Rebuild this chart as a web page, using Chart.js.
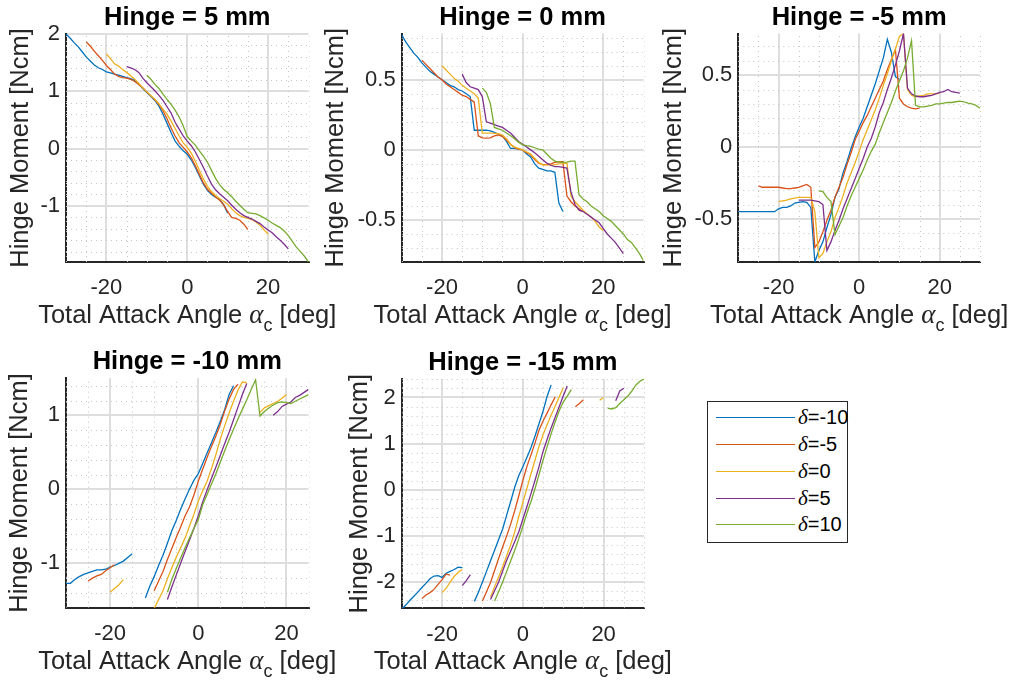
<!DOCTYPE html>
<html>
<head>
<meta charset="utf-8">
<title>Hinge Moment vs Total Attack Angle</title>
<script src="https://cdn.jsdelivr.net/npm/chart.js"></script>
<style>
  html, body { margin: 0; padding: 0; background: #ffffff; }
  body { position: relative; width: 1011px; height: 685px; overflow: hidden;
         font-family: "Liberation Sans", Arial, Helvetica, sans-serif; }
  canvas.panel { position: absolute; }
  #legend { position: absolute; left: 707px; top: 401px; width: 141px; height: 142px;
            box-sizing: border-box; border: 1px solid #262626; background: #ffffff; }
  .lg-row { position: absolute; left: 8px; height: 22px; display: flex; align-items: center; white-space: nowrap; }
  .lg-line { width: 79px; height: 0; border-top: 1.3px solid; }
  .lg-text { margin-left: 3px; font-size: 20px; color: #000000; }
  .lg-text i { font-family: "Liberation Serif", "DejaVu Serif", serif; font-size: 21px; }
</style>
</head>
<body>
<div id="legend"></div>
<script>
// ---- data -------------------------------------------------------------
// flap deflection δ [deg] for each series; total attack angle α_c = α + δ
const deltaDeg = [-10, -5, 0, 5, 10];
const seriesLabels = ['δ=-10', 'δ=-5', 'δ=0', 'δ=5', 'δ=10'];
// geometric attack angle α [deg] of each sample
const alphaDeg = [-20,-19,-18,-17,-16,-15,-14,-13,-12,-11,-10,-9,-8,-7,-6,-5,-4,-3,-2,-1,
                  0,1,2,3,4,5,6,7,8,9,10,11,12,13,14,15,16,17,18,19,20];

const xTickValues = [-20, 0, 20];
const yTicksH5 = [-1, 0, 1, 2];
const yTicksH0 = [-0.5, 0, 0.5];
const yTicksHm5 = [-0.5, 0, 0.5];
const yTicksHm10 = [-1, 0, 1];
const yTicksHm15 = [-2, -1, 0, 1, 2];

// hinge moment [Ncm], one value per α sample (null = no measurement)
// Hinge = 5 mm
const h5_dm10 = [2.00,1.93,1.85,1.78,1.69,1.60,1.53,1.46,1.41,1.38,1.34,1.32,1.30,1.28,1.26,1.24,1.22,1.19,1.12,1.05,0.98,0.91,0.84,0.74,0.60,0.44,0.28,0.13,0.04,-0.04,-0.10,-0.20,-0.33,-0.48,-0.62,-0.73,-0.80,-0.85,-0.89,-0.98,-1.13];
const h5_dm5  = [1.86,1.79,1.70,1.62,1.54,1.45,1.38,1.30,1.26,1.24,1.23,1.21,1.17,1.12,1.06,0.99,0.92,0.85,0.77,0.66,0.52,0.36,0.22,0.10,0.02,-0.06,-0.16,-0.30,-0.45,-0.60,-0.71,-0.78,-0.84,-0.90,-0.98,-1.10,-1.20,-1.22,-1.25,-1.32,-1.41];
const h5_d0   = [1.65,1.57,1.48,1.44,1.38,1.33,1.27,1.21,1.14,1.06,0.99,0.92,0.86,0.78,0.69,0.60,0.48,0.35,0.22,0.10,0.02,-0.08,-0.22,-0.38,-0.53,-0.66,-0.75,-0.82,-0.87,-0.92,-0.97,-1.05,-1.12,-1.17,-1.20,-1.22,-1.24,-1.28,-1.34,-1.42,-1.49];
const h5_dp5  = [1.43,1.41,1.38,1.33,1.23,1.15,1.08,1.01,0.93,0.84,0.73,0.62,0.46,0.34,0.22,0.13,0.05,-0.06,-0.19,-0.33,-0.48,-0.62,-0.72,-0.79,-0.85,-0.91,-0.99,-1.06,-1.12,-1.17,-1.20,-1.23,-1.27,-1.31,-1.37,-1.42,-1.47,-1.54,-1.60,-1.67,-1.75];
const h5_dp10 = [1.28,1.21,1.12,1.05,0.95,0.86,0.77,0.67,0.55,0.40,0.21,0.13,0.06,-0.04,-0.13,-0.24,-0.38,-0.52,-0.63,-0.71,-0.77,-0.84,-0.92,-0.99,-1.06,-1.12,-1.13,-1.14,-1.17,-1.21,-1.25,-1.30,-1.34,-1.38,-1.44,-1.52,-1.62,-1.72,-1.80,-1.88,-1.98];

// Hinge = 0 mm
const h0_dm10 = [0.82,0.77,0.73,0.69,0.66,0.62,0.59,0.56,0.54,0.52,0.50,0.48,0.46,0.45,0.43,0.42,0.40,0.38,0.14,0.14,0.14,0.14,0.135,0.125,0.11,0.10,0.06,0.01,0.01,0.005,0.0,-0.03,-0.05,-0.10,-0.13,-0.14,-0.15,-0.15,-0.16,-0.38,-0.44];
const h0_dm5  = [0.64,0.61,0.58,0.55,0.52,0.50,0.47,0.45,0.43,0.41,0.39,0.38,0.36,0.34,0.10,0.085,0.083,0.085,0.10,0.107,0.095,0.07,0.04,0.015,0.005,0.0,-0.02,-0.035,-0.07,-0.095,-0.105,-0.105,-0.10,-0.09,-0.085,-0.085,-0.33,-0.37,-0.40,-0.42,-0.44];
const h0_d0   = [0.60,0.57,0.54,0.51,0.49,0.46,0.44,0.42,0.40,0.37,0.12,0.12,0.12,0.118,0.115,0.105,0.08,0.04,0.02,0.01,0.0,-0.015,-0.03,-0.06,-0.09,-0.107,-0.107,-0.107,-0.105,-0.10,-0.098,-0.095,-0.33,-0.37,-0.40,-0.43,-0.455,-0.48,-0.51,-0.55,-0.575];
const h0_dp5  = [0.54,0.48,0.45,0.44,0.43,0.38,0.20,0.19,0.18,0.17,0.16,0.14,0.12,0.09,0.06,0.04,0.02,0.0,-0.02,-0.045,-0.07,-0.095,-0.11,-0.12,-0.12,-0.125,-0.13,-0.30,-0.39,-0.43,-0.44,-0.46,-0.48,-0.50,-0.52,-0.56,-0.60,-0.63,-0.66,-0.70,-0.74];
const h0_dp10 = [0.44,0.41,0.33,0.16,0.15,0.14,0.12,0.10,0.08,0.055,0.036,0.03,0.025,0.015,0.005,0.0,-0.03,-0.06,-0.08,-0.085,-0.09,-0.088,-0.08,-0.08,-0.32,-0.35,-0.37,-0.40,-0.42,-0.44,-0.47,-0.49,-0.51,-0.54,-0.57,-0.60,-0.64,-0.66,-0.70,-0.74,-0.79];

// Hinge = -5 mm
const hm5_dm10 = [-0.45,-0.45,-0.45,-0.45,-0.45,-0.45,-0.45,-0.45,-0.45,-0.45,-0.43,-0.42,-0.42,-0.41,-0.39,-0.385,-0.38,-0.385,-0.42,-0.80,-0.72,-0.66,-0.56,-0.47,-0.35,-0.29,-0.18,-0.10,-0.01,0.07,0.14,0.20,0.28,0.36,0.44,0.53,0.62,0.75,0.66,0.49,0.47];
const hm5_dm5  = [-0.27,-0.28,-0.28,-0.28,-0.28,-0.28,-0.285,-0.29,-0.29,-0.285,-0.28,-0.27,-0.26,-0.28,-0.70,-0.66,-0.59,-0.51,-0.44,-0.35,-0.28,-0.21,-0.12,-0.04,0.05,0.11,0.17,0.22,0.28,0.34,0.40,0.46,0.54,0.61,0.68,0.34,0.30,0.28,0.27,0.265,0.27];
const hm5_d0   = [-0.38,-0.375,-0.37,-0.36,-0.355,-0.35,-0.35,-0.35,-0.35,-0.45,-0.77,-0.74,-0.66,-0.59,-0.49,-0.42,-0.34,-0.25,-0.18,-0.11,-0.03,0.05,0.12,0.19,0.26,0.34,0.43,0.51,0.60,0.68,0.77,0.79,0.40,0.36,0.35,0.355,0.36,0.37,0.37,0.37,0.375];
const hm5_dp5  = [-0.37,-0.37,-0.37,-0.37,-0.375,-0.38,-0.40,-0.72,-0.66,-0.58,-0.51,-0.43,-0.36,-0.29,-0.22,-0.15,-0.08,0.0,0.06,0.14,0.24,0.31,0.40,0.48,0.57,0.67,0.79,0.41,0.37,0.355,0.35,0.35,0.355,0.36,0.37,0.38,0.385,0.40,0.385,0.38,0.375];
const hm5_dp10 = [-0.305,-0.31,-0.35,-0.38,-0.61,-0.55,-0.49,-0.41,-0.34,-0.28,-0.22,-0.16,-0.09,-0.03,0.02,0.10,0.17,0.24,0.31,0.39,0.46,0.53,0.62,0.74,0.29,0.28,0.28,0.285,0.29,0.30,0.30,0.305,0.31,0.31,0.315,0.32,0.315,0.305,0.30,0.29,0.27];

// Hinge = -10 mm
const hm10_dm10 = [-1.27,-1.27,-1.22,-1.18,-1.15,-1.13,-1.11,-1.09,-1.09,-1.08,-1.05,-1.03,-1.00,-0.97,-0.92,-0.87,null,null,-1.47,-1.31,-1.18,-1.03,-0.89,-0.73,-0.56,-0.42,-0.27,-0.13,0.00,0.12,0.21,0.35,0.49,0.63,0.77,0.92,1.08,1.28,1.40,null,null];
const hm10_dm5  = [-1.24,-1.20,-1.17,-1.15,-1.10,-1.06,-1.02,null,null,null,null,null,null,null,null,-1.37,-1.24,-1.11,-0.95,-0.80,-0.65,-0.51,-0.36,-0.24,-0.08,0.11,0.27,0.43,0.58,0.72,0.88,1.06,1.22,1.35,1.42,null,null,null,null,null,null];
const hm10_d0   = [-1.39,-1.34,-1.29,-1.22,null,null,null,null,null,null,-1.61,-1.49,-1.37,-1.21,-1.06,-0.92,-0.79,-0.66,-0.50,-0.34,-0.16,-0.02,0.11,0.28,0.47,0.68,0.86,1.03,1.19,1.34,1.45,1.44,null,null,1.04,1.10,1.13,1.16,1.19,1.23,1.28];
const hm10_dp5  = [null,null,null,null,null,null,null,null,-1.49,-1.32,-1.16,-1.00,-0.84,-0.69,-0.53,-0.36,-0.17,-0.01,0.15,0.30,0.46,0.62,0.77,0.94,1.11,1.28,1.43,null,null,null,null,null,1.00,1.05,1.12,1.15,1.18,1.24,1.27,1.31,1.35];
const hm10_dp10 = [null,null,null,-1.39,-1.22,-1.07,-0.93,-0.79,-0.66,-0.53,-0.41,-0.21,-0.07,0.07,0.21,0.37,0.52,0.67,0.81,0.95,1.08,1.21,1.35,1.48,0.99,1.05,1.10,1.14,1.17,1.18,1.17,1.16,1.19,1.22,1.25,1.28,null,null,null,null,null];

// Hinge = -15 mm
const hm15_dm10 = [-2.59,-2.50,-2.40,-2.31,-2.22,-2.12,-2.03,-1.93,-1.87,-1.86,-1.90,-1.81,-1.77,-1.73,-1.68,-1.69,null,null,-2.42,-2.22,-2.00,-1.77,-1.54,-1.31,-1.08,-0.85,-0.55,-0.25,0.06,0.31,0.50,0.70,0.91,1.16,1.43,1.70,2.02,2.27,null,null,null];
const hm15_dm5  = [-2.36,-2.28,-2.23,-2.16,-2.05,-1.95,-1.83,-1.85,null,null,null,null,null,null,null,-2.41,-2.21,-2.01,-1.75,-1.49,-1.24,-1.00,-0.74,-0.45,-0.13,0.20,0.50,0.75,1.01,1.29,1.49,1.66,1.84,2.01,null,null,null,null,1.80,1.87,1.95];
const hm15_d0   = [-2.23,-2.14,-2.00,-1.88,-1.79,-1.73,null,null,null,null,null,null,-2.33,-2.10,-1.89,-1.67,-1.43,-1.19,-0.91,-0.58,-0.28,0.03,0.34,0.64,0.94,1.19,1.41,1.62,1.81,2.01,2.21,null,null,null,null,null,null,null,null,1.94,2.00];
const hm15_dp5  = [-2.08,-1.97,-1.84,null,null,null,null,-2.38,-2.19,-2.00,-1.76,-1.53,-1.33,-1.12,-0.91,-0.64,-0.37,-0.09,0.20,0.50,0.83,1.09,1.34,1.57,1.80,2.03,2.25,null,null,null,null,null,null,null,null,null,null,null,1.93,2.14,2.20];
const hm15_dp10 = [null,null,null,-2.41,-2.21,-2.00,-1.77,-1.54,-1.31,-1.06,-0.79,-0.51,-0.26,0.02,0.33,0.64,0.93,1.21,1.47,1.71,1.90,2.03,2.17,null,null,null,null,null,null,null,null,1.77,1.75,1.78,1.87,1.95,2.03,2.14,2.27,2.35,2.40];

// ---- styling / layout -------------------------------------------------
const lineColors = ['#0072BD', '#D95319', '#EDB120', '#7E2F8E', '#77AC30'];
const FONT = '"Liberation Sans", Arial, Helvetica, sans-serif';
const INK = '#262626';

const panels = [
  { title: 'Hinge = 5 mm',   series: [h5_dm10, h5_dm5, h5_d0, h5_dp5, h5_dp10], yTicks: yTicksH5,
    xLim: [-30, 30], yLim: [-1.98, 2.0], yMinor: 0.2,
    box: { left: 0, top: 0, width: 345, height: 340 },   plot: { L: 66, T: 34, R: 308.5, B: 262 }, yTitleX: 22.5 },
  { title: 'Hinge = 0 mm',   series: [h0_dm10, h0_dm5, h0_d0, h0_dp5, h0_dp10], yTicks: yTicksH0,
    xLim: [-30, 30], yLim: [-0.80, 0.83], yMinor: 0.1,
    box: { left: 320, top: 0, width: 355, height: 340 }, plot: { L: 401.7, T: 33.5, R: 643.5, B: 262 }, yTitleX: 338 },
  { title: 'Hinge = -5 mm',  series: [hm5_dm10, hm5_dm5, hm5_d0, hm5_dp5, hm5_dp10], yTicks: yTicksHm5,
    xLim: [-30, 30], yLim: [-0.80, 0.79], yMinor: 0.1,
    box: { left: 655, top: 0, width: 356, height: 340 }, plot: { L: 738.3, T: 33.5, R: 980, B: 262 }, yTitleX: 676 },
  { title: 'Hinge = -10 mm', series: [hm10_dm10, hm10_dm5, hm10_d0, hm10_dp5, hm10_dp10], yTicks: yTicksHm10,
    xLim: [-30, 25], yLim: [-1.6, 1.5], yMinor: 0.2,
    box: { left: 0, top: 344, width: 345, height: 341 }, plot: { L: 66, T: 378.3, R: 308.5, B: 607.7 }, yTitleX: 21.7 },
  { title: 'Hinge = -15 mm', series: [hm15_dm10, hm15_dm5, hm15_d0, hm15_dp5, hm15_dp10], yTicks: yTicksHm15,
    xLim: [-30, 30], yLim: [-2.57, 2.4], yMinor: 0.2,
    box: { left: 340, top: 344, width: 340, height: 341 }, plot: { L: 401.7, T: 379, R: 644, B: 608.3 }, yTitleX: 361.5 }
];

// dotted minor grid, drawn through the chart's own scales
const minorGrid = {
  id: 'minorGrid',
  beforeDatasetsDraw(chart, args, opts) {
    const { ctx, chartArea: a, scales: { x, y } } = chart;
    ctx.save();
    ctx.beginPath();
    ctx.rect(a.left, a.top - 1, a.right - a.left + 1, a.bottom - a.top + 1);
    ctx.clip();
    ctx.strokeStyle = opts.color;
    ctx.lineWidth = 1;
    ctx.setLineDash([1, 4]);
    const isMajor = (v, majors) => majors.some(m => Math.abs(m - v) < 1e-6);
    const n0 = Math.ceil(x.min / opts.xStep - 1e-6), n1 = Math.floor(x.max / opts.xStep + 1e-6);
    for (let n = n0; n <= n1; n++) {
      const v = n * opts.xStep;
      if (isMajor(v, opts.xMajor)) continue;
      const px = Math.round(x.getPixelForValue(v)) + 0.5;
      ctx.beginPath(); ctx.moveTo(px, a.bottom); ctx.lineTo(px, a.top); ctx.stroke();
    }
    const m0 = Math.ceil(y.min / opts.yStep - 1e-6), m1 = Math.floor(y.max / opts.yStep + 1e-6);
    for (let m = m0; m <= m1; m++) {
      const v = m * opts.yStep;
      if (isMajor(v, opts.yMajor)) continue;
      const py = Math.round(y.getPixelForValue(v)) + 0.5;
      ctx.beginPath(); ctx.moveTo(a.left, py); ctx.lineTo(a.right, py); ctx.stroke();
    }
    ctx.restore();
  }
};

// bold panel heading centred over the plotting area
const panelTitle = {
  id: 'panelTitle',
  afterDraw(chart, args, opts) {
    const { ctx, chartArea: a } = chart;
    ctx.save();
    ctx.font = 'bold 25.5px ' + FONT;
    ctx.fillStyle = '#000000';
    ctx.textAlign = 'center';
    ctx.textBaseline = 'alphabetic';
    ctx.fillText(opts.text, (a.left + a.right) / 2, a.top - 9);
    ctx.restore();
  }
};

// x-axis label with Greek alpha and subscript c
const xAxisLabel = {
  id: 'xAxisLabel',
  afterDraw(chart, args, opts) {
    const { ctx, chartArea: a } = chart;
    const parts = [
      { t: 'Total Attack Angle ', f: '25.5px ' + FONT, dy: 0 },
      { t: 'α', f: 'italic 27px "Liberation Serif", "DejaVu Serif", serif', dy: 0 },
      { t: 'c', f: '18px ' + FONT, dy: 8 },
      { t: ' [deg]', f: '25.5px ' + FONT, dy: 0 }
    ];
    ctx.save();
    ctx.fillStyle = INK;
    ctx.textBaseline = 'alphabetic';
    ctx.textAlign = 'left';
    let total = 0;
    parts.forEach(p => { ctx.font = p.f; p.w = ctx.measureText(p.t).width; total += p.w; });
    let cx = (a.left + a.right) / 2 - total / 2;
    const base = a.bottom + 61;
    parts.forEach(p => { ctx.font = p.f; ctx.fillText(p.t, cx, base + p.dy); cx += p.w; });
    ctx.restore();
  }
};

Chart.defaults.font.family = FONT;

function buildPanel(def) {
  const cv = document.createElement('canvas');
  cv.className = 'panel';
  cv.width = def.box.width; cv.height = def.box.height;
  cv.style.left = def.box.left + 'px'; cv.style.top = def.box.top + 'px';
  cv.style.width = def.box.width + 'px'; cv.style.height = def.box.height + 'px';
  document.body.appendChild(cv);

  const p = def.plot;
  const yAxisW = p.L - def.box.left;
  const xAxisH = def.box.top + def.box.height - p.B;
  const padTop = p.T - def.box.top;
  const padRight = def.box.left + def.box.width - p.R;
  const yTitleSize = 25.5;
  const yTitleLine = yTitleSize * 1.2;

  const datasets = def.series.map((vals, i) => ({
    label: seriesLabels[i],
    data: alphaDeg.map((a, k) => ({ x: a + deltaDeg[i], y: vals[k] })),
    borderColor: lineColors[i],
    backgroundColor: lineColors[i],
    borderWidth: 1.3,
    pointRadius: 0,
    tension: 0,
    fill: false,
    spanGaps: false,
    order: deltaDeg.length - 1 - i
  }));

  return new Chart(cv, {
    type: 'line',
    data: { datasets },
    options: {
      responsive: false,
      animation: false,
      devicePixelRatio: 1,
      events: [],
      layout: { padding: { top: padTop, right: padRight, left: 0, bottom: 0 } },
      plugins: {
        legend: { display: false },
        tooltip: { enabled: false },
        panelTitle: { text: def.title },
        minorGrid: { color: '#c4c4c4', xStep: 5, yStep: def.yMinor, xMajor: xTickValues, yMajor: def.yTicks }
      },
      scales: {
        x: {
          type: 'linear', bounds: 'data', min: def.xLim[0], max: def.xLim[1],
          afterBuildTicks: s => { s.ticks = xTickValues.map(v => ({ value: v })); },
          afterFit: s => { s.height = xAxisH; },
          grid: { color: '#dedede', lineWidth: 2, drawTicks: false },
          border: { color: INK, width: 2 },
          ticks: { color: INK, font: { size: 22 }, padding: 13, maxRotation: 0, autoSkip: false }
        },
        y: {
          type: 'linear', bounds: 'data', min: def.yLim[0], max: def.yLim[1],
          afterBuildTicks: s => { s.ticks = def.yTicks.map(v => ({ value: v })); },
          afterFit: s => { s.width = yAxisW; },
          grid: { color: '#dedede', lineWidth: 2, drawTicks: false },
          border: { color: INK, width: 2 },
          ticks: { color: INK, font: { size: 22 }, padding: 6, autoSkip: false },
          title: {
            display: true, text: 'Hinge Moment [Ncm]', color: INK, font: { size: yTitleSize },
            padding: { top: Math.max(0, def.yTitleX - def.box.left - yTitleLine / 2 - 2), bottom: 0 }
          }
        }
      }
    },
    plugins: [minorGrid, panelTitle, xAxisLabel]
  });
}

panels.forEach(buildPanel);

// legend listing the five deflection series
const legend = document.getElementById('legend');
seriesLabels.forEach((lab, i) => {
  const row = document.createElement('div');
  row.className = 'lg-row';
  row.style.top = (15.7 + i * 26.8 - 11) + 'px';
  const line = document.createElement('span');
  line.className = 'lg-line';
  line.style.borderTopColor = lineColors[i];
  const txt = document.createElement('span');
  txt.className = 'lg-text';
  const sym = document.createElement('i');
  sym.textContent = lab.charAt(0);
  txt.appendChild(sym);
  txt.appendChild(document.createTextNode(lab.slice(1)));
  row.appendChild(line);
  row.appendChild(txt);
  legend.appendChild(row);
});
</script>
</body>
</html>
